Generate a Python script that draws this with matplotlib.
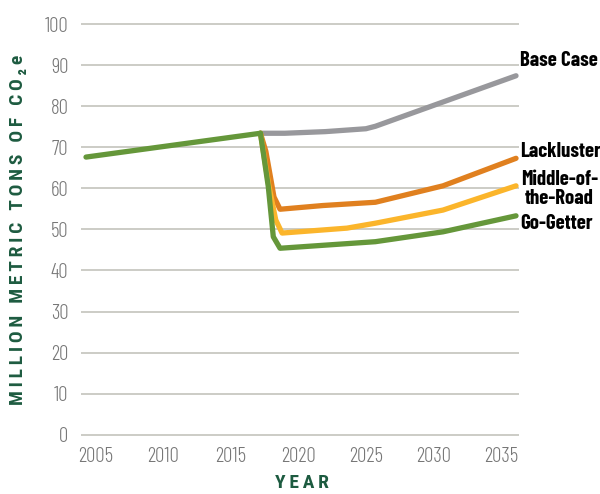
import matplotlib
matplotlib.use("Agg")
import matplotlib.pyplot as plt

# emissions history shared by every scenario (million metric tons CO2e)
hist_years = [2004.3, 2017.2]
hist_vals = [67.6, 73.4]

base_years = [2017.2, 2019.0, 2022.0, 2025.0, 2025.7, 2036.1]
base_vals = [73.4, 73.4, 73.8, 74.5, 75.1, 87.4]

lack_years = [2017.2, 2017.6, 2017.85, 2018.2, 2018.65, 2021.8, 2025.7, 2030.7, 2036.1]
lack_vals = [73.4, 69.0, 64.4, 57.9, 54.9, 55.8, 56.6, 60.6, 67.3]

mid_years = [2017.2, 2017.8, 2018.33, 2018.8, 2023.6, 2025.7, 2030.7, 2036.1]
mid_vals = [73.4, 61.0, 52.3, 49.1, 50.3, 51.5, 54.7, 60.6]

go_years = [2017.2, 2017.78, 2018.15, 2018.65, 2025.7, 2030.7, 2036.1]
go_vals = [73.4, 60.4, 48.2, 45.4, 47.0, 49.4, 53.3]

xticks = [2005, 2010, 2015, 2020, 2025, 2030, 2035]
yticks = list(range(0, 101, 10))

tick_font = ["Barlow Condensed", "Roboto Condensed", "DejaVu Sans"]
label_font = ["Barlow Condensed", "Roboto Condensed", "DejaVu Sans"]
axis_font = ["Roboto Condensed", "DejaVu Sans"]
green = "#65973a"
dark_green = "#1d5b40"

fig = plt.figure(figsize=(6, 4.94), dpi=100)
ax = fig.add_axes([0.135, 0.1117, 0.73, 0.848])

kw = dict(linewidth=3.8, solid_capstyle="round", solid_joinstyle="round")
ax.plot(base_years, base_vals, color="#98989c", **kw)
ax.plot(lack_years, lack_vals, color="#e0801f", **kw)
ax.plot(mid_years, mid_vals, color="#fbb52b", **kw)
ax.plot(go_years, go_vals, color=green, **kw)
ax.plot(hist_years, hist_vals, color=green, **kw)

ax.set_xlim(2003.93, 2036.32)
ax.set_ylim(-1, 101)
ax.set_xticks(xticks)
ax.set_yticks(yticks)
ax.set_xticklabels([str(x) for x in xticks], family=tick_font, fontsize=15,
                   fontweight=300, color="#777777")
ax.set_yticklabels([str(y) for y in yticks], family=tick_font, fontsize=15,
                   fontweight=300, color="#777777")
ax.tick_params(length=0)
ax.tick_params(axis="y", pad=9)
ax.tick_params(axis="x", pad=6)
for s in ax.spines.values():
    s.set_visible(False)
ax.yaxis.grid(True, color="#c4c3bc", linewidth=1.2)
ax.set_axisbelow(True)

# end-of-line scenario labels
lab = dict(family=label_font, fontsize=15, fontweight="bold", color="black",
           clip_on=False, va="center")
ax.text(2036.4, 91.0, "Base Case", ha="left", **lab)
ax.text(2036.4, 69.0, "Lackluster", ha="left", **lab)
ax.text(2039.3, 59.8, "Middle-of-\nthe-Road", ha="center", linespacing=0.95, **lab)
ax.text(2036.4, 51.4, "Go-Getter", ha="left", **lab)

sp = "\u2009"
ylab = sp.join("MILLION METRIC TONS OF CO\u2082e")
fig.text(0.03, 0.535, ylab, rotation=90, ha="center", va="center",
         family=axis_font, fontsize=14, fontweight="bold", color=dark_green)
fig.text(0.503, 0.005, sp.join("YEAR"), ha="center", va="bottom",
         family=axis_font, fontsize=14, fontweight="bold", color=dark_green)

fig.savefig("out.png", dpi=100)
